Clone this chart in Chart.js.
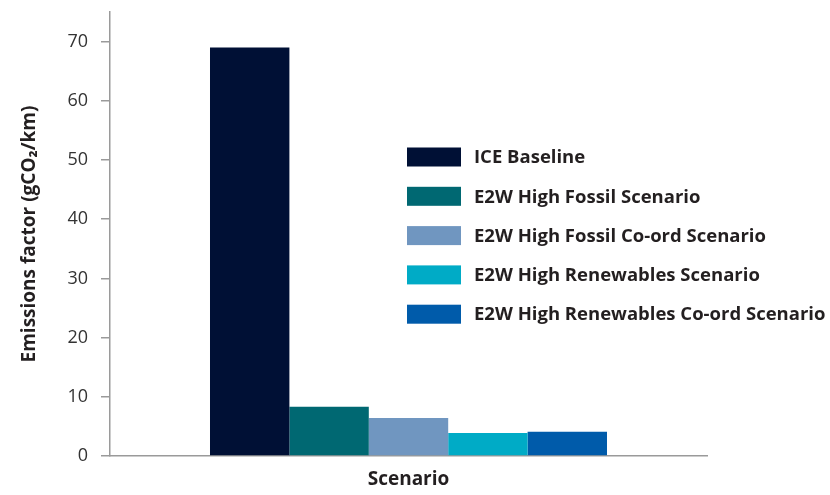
<!DOCTYPE html>
<html>
<head>
<meta charset="utf-8">
<script src="https://cdn.jsdelivr.net/npm/chart.js@4/dist/chart.umd.min.js"></script>
<style>
  html, body { margin: 0; padding: 0; background: #ffffff; }
  #wrap { width: 830px; height: 495px; position: relative; }
</style>
</head>
<body>
<div id="wrap"><canvas id="c" width="830" height="495"></canvas></div>
<script>
// ---- data ----
const categories = [''];
const seriesNames = [
  'ICE Baseline',
  'E2W High Fossil Scenario',
  'E2W High Fossil Co-ord Scenario',
  'E2W High Renewables Scenario',
  'E2W High Renewables Co-ord Scenario'
];
const seriesValues = [69.0, 8.3, 6.4, 3.9, 4.1];
const seriesColors = ['#001035', '#006872', '#7096C0', '#00ABC6', '#005BAA'];
const yTickValues = [0, 10, 20, 30, 40, 50, 60, 70];
const yAxisTitle = 'Emissions factor (gCO\u2082/km)';
const xAxisTitle = 'Scenario';

const FONT = "'Open Sans', 'Noto Sans', sans-serif";
const TEXT_DARK = '#231f20';
const AXIS_GREY = '#9a9a9a';

const datasets = seriesNames.map((name, i) => ({
  label: name,
  data: [seriesValues[i]],
  backgroundColor: seriesColors[i],
  borderWidth: 0,
  barPercentage: 1.0,
  categoryPercentage: 0.665
}));

// custom legend drawn from the datasets
const boxLegend = {
  id: 'boxLegend',
  afterDraw(chart) {
    const ctx = chart.ctx;
    const x0 = 407, y0 = 157, step = 39.3, bw = 54, bh = 19, gap = 13;
    ctx.save();
    ctx.font = "bold 18.5px " + FONT;
    ctx.textBaseline = 'middle';
    ctx.textAlign = 'left';
    chart.data.datasets.forEach((ds, i) => {
      const cy = y0 + i * step;
      ctx.fillStyle = ds.backgroundColor;
      ctx.fillRect(x0, cy - bh / 2, bw, bh);
      ctx.fillStyle = TEXT_DARK;
      ctx.fillText(ds.label, x0 + bw + gap, cy + 1);
    });
    ctx.restore();
  }
};

new Chart(document.getElementById('c'), {
  type: 'bar',
  data: { labels: categories, datasets },
  plugins: [boxLegend],
  options: {
    responsive: false,
    animation: false,
    layout: { padding: { top: 12, right: 123, bottom: 0, left: 0 } },
    plugins: {
      legend: { display: false },
      tooltip: { enabled: false }
    },
    scales: {
      x: {
        ticks: { display: false },
        grid: { display: false },
        border: { display: true, color: AXIS_GREY, width: 1.5 },
        title: {
          display: true,
          text: xAxisTitle,
          color: TEXT_DARK,
          font: { family: FONT, size: 19, weight: 'bold', lineHeight: 1.2 },
          padding: { top: 0, bottom: 4 }
        },
        afterFit(scale) { scale.height = 39; }
      },
      y: {
        min: 0,
        max: 75,
        afterBuildTicks(axis) {
          axis.ticks = yTickValues.map(v => ({ value: v }));
        },
        ticks: {
          stepSize: 10,
          includeBounds: false,
          color: '#333333',
          padding: 13,
          font: { family: FONT, size: 18 }
        },
        grid: {
          display: true,
          drawOnChartArea: false,
          drawTicks: true,
          tickLength: 9,
          color: AXIS_GREY,
          lineWidth: 1.5
        },
        border: { display: true, color: AXIS_GREY, width: 1.5 },
        title: {
          display: true,
          text: yAxisTitle,
          color: TEXT_DARK,
          font: { family: FONT, size: 19, weight: 'bold', lineHeight: 1.2 },
          padding: { top: 18, bottom: 0 }
        },
        afterFit(scale) {
          scale.width = 110;
          scale.paddingTop = 0;
          scale.paddingBottom = 0;
        }
      }
    }
  }
});
</script>
</body>
</html>
